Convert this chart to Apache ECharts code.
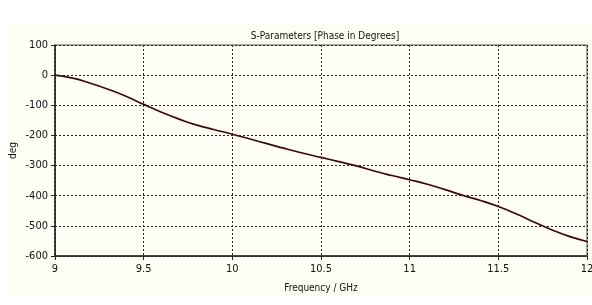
<!DOCTYPE html>
<html>
<head>
<meta charset="utf-8">
<script src="https://cdn.jsdelivr.net/npm/echarts@6/dist/echarts.min.js"></script>
<style>
  html, body { margin: 0; padding: 0; background: #ffffff; }
  #chart { width: 592px; height: 305px; }
</style>
</head>
<body>
<div id="chart"></div>
<script>
// frequency points (GHz)
const freq = [9.0, 9.1, 9.2, 9.3, 9.4, 9.5, 9.6, 9.7, 9.8, 9.9,
  10.0, 10.1, 10.2, 10.3, 10.4, 10.5, 10.6, 10.7, 10.8, 10.9,
  11.0, 11.1, 11.2, 11.3, 11.4, 11.5, 11.6, 11.7, 11.8, 11.9, 12.0]
// phase (deg)
const phase = [0, -10, -27, -47, -70, -97, -123, -146, -166, -181,
  -196, -212, -228, -244, -259, -273, -287, -301, -318, -333,
  -347, -362, -380, -399, -416, -436, -460, -487, -513, -535, -552]

const font = "'DejaVu Sans Condensed', 'Liberation Sans', sans-serif"
const chart = echarts.init(document.getElementById('chart'))

chart.setOption({
  animation: false,
  backgroundColor: '#ffffff',
  graphic: [{
    type: 'rect',
    z: -10,
    silent: true,
    shape: { x: 8, y: 24, width: 584, height: 271 },
    style: { fill: '#fffff6' }
  }],
  title: {
    text: 'S-Parameters [Phase in Degrees]',
    left: 320,
    top: 26,
    textAlign: 'center',
    textStyle: { fontFamily: font, fontSize: 10, fontWeight: 'normal', color: '#111' }
  },
  grid: {
    left: 55, right: 5, top: 45, bottom: 49,
    outerBoundsMode: 'none',
    show: true, borderColor: '#555', borderWidth: 1
  },
  xAxis: {
    type: 'value',
    min: 9, max: 12, interval: 0.5,
    name: 'Frequency / GHz',
    nameLocation: 'middle',
    nameGap: 27,
    nameMoveOverlap: false,
    nameTextStyle: { fontFamily: font, fontSize: 10, color: '#111' },
    axisLine: { onZero: false, lineStyle: { color: '#222', width: 1.5 } },
    axisTick: { show: true, length: 4, lineStyle: { color: '#222' } },
    axisLabel: { fontFamily: font, fontSize: 11, color: '#111', margin: 8 },
    splitLine: { lineStyle: { color: '#222', type: [2, 2], width: 1 } }
  },
  yAxis: {
    type: 'value',
    min: -600, max: 100, interval: 100,
    name: 'deg',
    nameLocation: 'middle',
    nameGap: 37,
    nameMoveOverlap: false,
    nameTextStyle: { fontFamily: font, fontSize: 10, color: '#111' },
    axisLine: { show: true, onZero: false, lineStyle: { color: '#222', width: 1.5 } },
    axisTick: { show: true, length: 4, lineStyle: { color: '#222' } },
    axisLabel: { fontFamily: font, fontSize: 11, color: '#111', margin: 7 },
    splitLine: { lineStyle: { color: '#222', type: [2, 2], width: 1 } }
  },
  series: [{
    type: 'line',
    data: freq.map((f, i) => [f, phase[i]]),
    smooth: true,
    showSymbol: false,
    lineStyle: { color: '#3f0606', width: 1.7 }
  }]
})
</script>
</body>
</html>
